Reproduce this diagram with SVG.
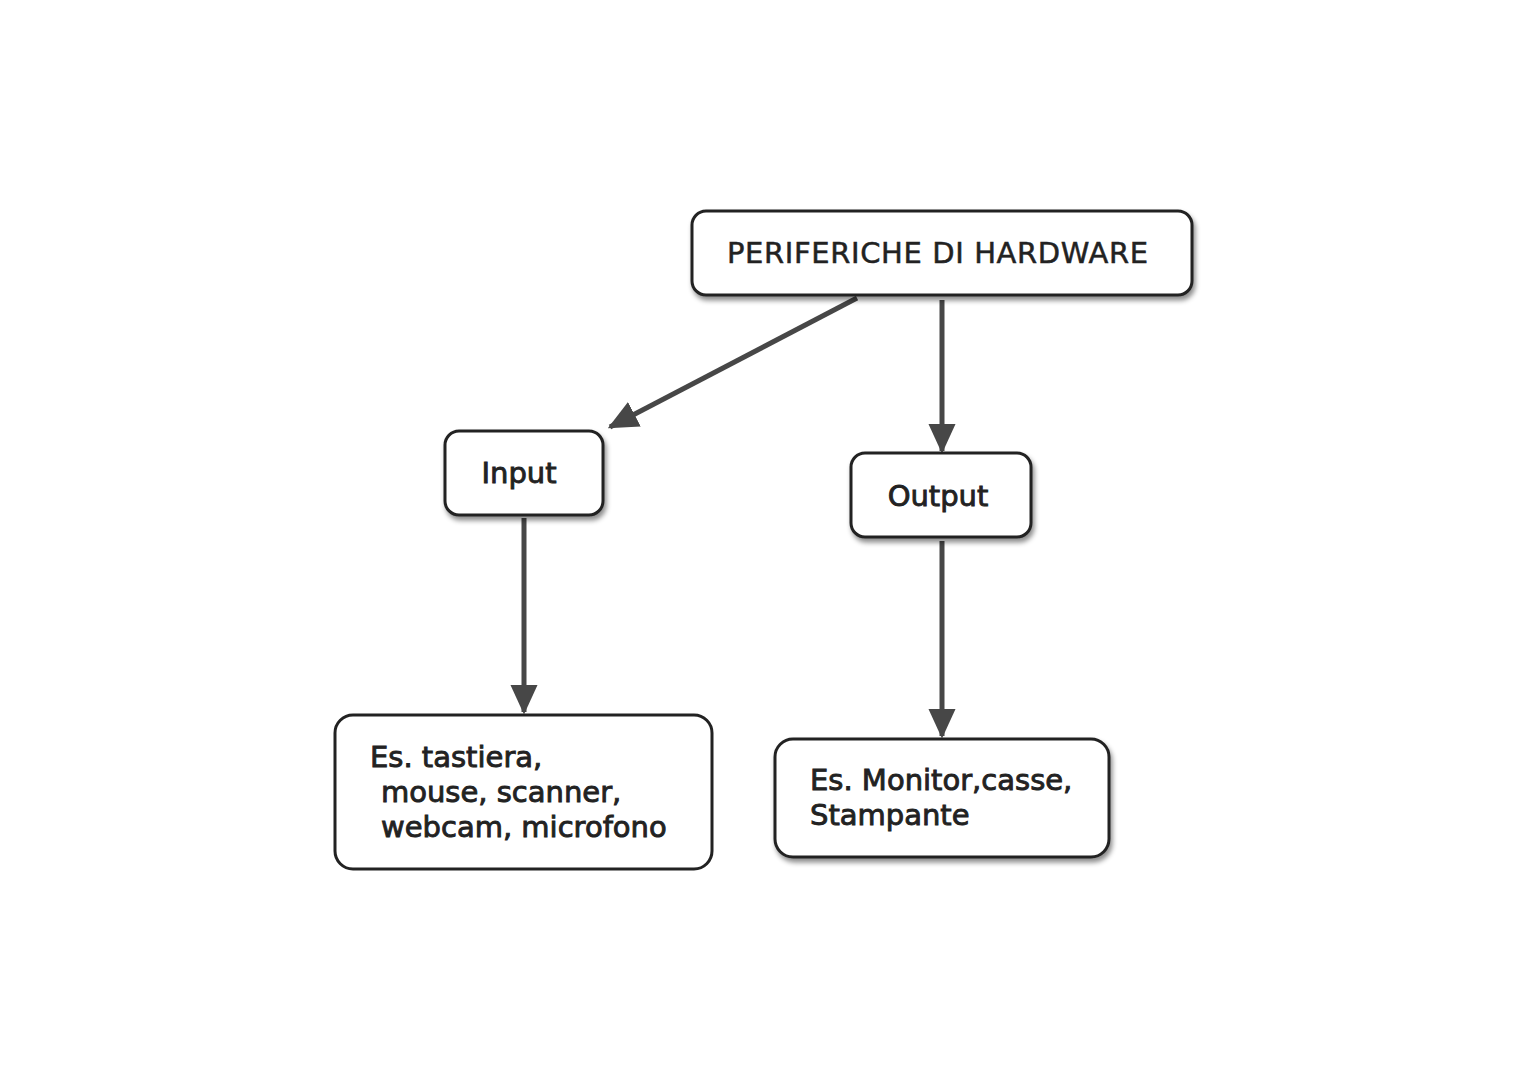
<svg xmlns="http://www.w3.org/2000/svg" width="1527" height="1080" viewBox="0 0 1527 1080">
<style>
.box{fill:#fff;stroke:#222;stroke-width:3}
.t{font-family:"DejaVu Sans",Verdana,sans-serif;font-size:29px;fill:#222;stroke:#222;stroke-width:0.9}
.c{stroke:#474747;stroke-width:5;fill:none}
</style>
<defs>
<filter id="sh" x="-10%" y="-10%" width="120%" height="130%">
<feDropShadow dx="2" dy="4" stdDeviation="2.5" flood-color="#000" flood-opacity="0.45"/>
</filter>
<marker id="ah" markerUnits="userSpaceOnUse" markerWidth="30" markerHeight="30" viewBox="0 0 24 24" refX="22" refY="12" orient="auto">
<path d="M0,1 L24,12 L0,23 Z" fill="#474747"/>
</marker>
</defs>
<rect width="1527" height="1080" fill="#fff"/>
<g id="connectors">
<line class="c" x1="857" y1="298" x2="610" y2="427" marker-end="url(#ah)"/>
<line class="c" x1="942" y1="300" x2="942" y2="451" marker-end="url(#ah)"/>
<line class="c" x1="524" y1="518" x2="524" y2="712" marker-end="url(#ah)"/>
<line class="c" x1="942" y1="541" x2="942" y2="736" marker-end="url(#ah)"/>
</g>
<g id="node-hardware">
<rect class="box" x="692" y="211" width="500" height="84" rx="14" filter="url(#sh)"/>
<text class="t" x="727" y="263" textLength="421" style="stroke-width:0.5">PERIFERICHE DI HARDWARE</text>
</g>
<g id="node-input">
<rect class="box" x="445" y="431" width="158" height="84" rx="14" filter="url(#sh)"/>
<text class="t" x="519" y="483" text-anchor="middle">Input</text>
</g>
<g id="node-output">
<rect class="box" x="851" y="453" width="180" height="84" rx="14" filter="url(#sh)"/>
<text class="t" x="938" y="506" text-anchor="middle">Output</text>
</g>
<g id="node-input-examples">
<rect class="box" x="335" y="715" width="377" height="154" rx="18"/>
<text class="t" x="370" y="767">Es. tastiera,</text>
<text class="t" x="381" y="802">mouse, scanner,</text>
<text class="t" x="381" y="837">webcam, microfono</text>
</g>
<g id="node-output-examples">
<rect class="box" x="775" y="739" width="334" height="118" rx="18" filter="url(#sh)"/>
<text class="t" x="810" y="790">Es. Monitor,casse,</text>
<text class="t" x="810" y="825">Stampante</text>
</g>
</svg>
